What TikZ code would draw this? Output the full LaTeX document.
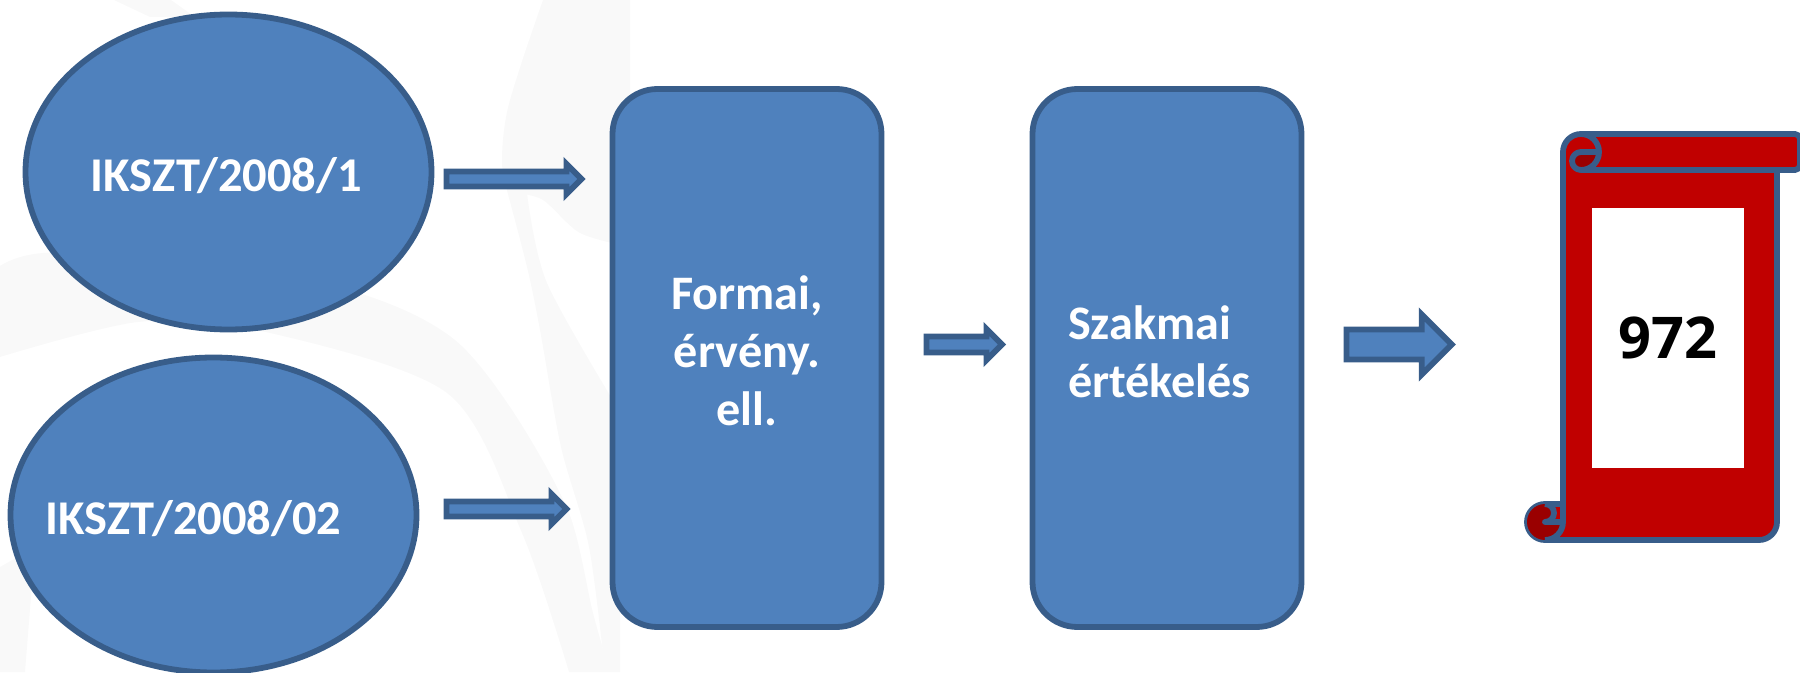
\documentclass[tikz,border=0pt]{standalone}
\usepackage{fontspec}
\setmainfont{Carlito}
\newfontfamily\countfont{Open Sans}
\usetikzlibrary{calc,shapes.geometric}

\definecolor{boxblue}{HTML}{4F81BD}
\definecolor{edgeblue}{HTML}{385D8A}
\definecolor{scrollred}{HTML}{C00000}
\definecolor{curlred}{HTML}{9A0000}
\definecolor{swoosh}{HTML}{F9F9F9}

\newcommand{\padtop}[2]{\raisebox{0pt}[\dimexpr\height+#1\relax]{#2}}
\newcommand{\padbottom}[2]{\raisebox{0pt}[\height][\dimexpr\depth+#1\relax]{#2}}

\tikzstyle{source} = [ellipse, minimum width=4.06cm, minimum height=3.15cm, inner sep=0pt, outer sep=0pt, draw=edgeblue, line width=0.058cm, fill=boxblue, text=white, font=\fontsize{13.8}{16.5}\bfseries]
\tikzstyle{stage} = [rectangle, rounded corners=0.45cm, minimum width=2.69cm, minimum height=5.38cm, inner sep=0pt, outer sep=0pt, draw=edgeblue, line width=0.058cm, fill=boxblue, text=white, font=\fontsize{13.7}{16.5}\bfseries]
\tikzstyle{result} = [rectangle, minimum width=1.52cm, minimum height=2.6cm, inner sep=0pt, fill=white, text=black, font=\countfont\fontsize{16.4}{20}\bfseries]
\tikzstyle{scrollline} = [draw=edgeblue, line width=0.058cm, line join=round]
\tikzset{arrow/.style 2 args={draw=edgeblue, fill=boxblue, line width=0.058cm, miter limit=4, to path={let \p1=(\tikztostart), \p2=(\tikztotarget) in (\x1,\y1+#1) -- (\x2-#2,\y1+#1) -- (\x2-#2,\y1+#2) -- (\x2,\y1) -- (\x2-#2,\y1-#2) -- (\x2-#2,\y1-#1) -- (\x1,\y1-#1) -- cycle}}}

\begin{document}
\begin{tikzpicture}[node distance=4.2cm]
\useasboundingbox (0,0) rectangle (18,6.72);

% faint background
\fill [swoosh] plot [smooth] coordinates {(0,4.06) (0.43,4.19) (2,4.2) (3.71,3.75) (4.55,3.32) (5.14,2.59) (5.69,1.59) (5.93,0.59) (6.10,0)} -- plot [smooth] coordinates {(5.69,0) (5.22,1.39) (4.47,2.79) (2.57,3.42) (1.38,3.50) (0,3.15)} -- cycle;
\fill [swoosh] plot [smooth] coordinates {(5.43,6.72) (5.07,5.6) (5.05,4.89) (5.43,4.72) (5.8,4.39) (6.3,4.25)} -- (6.3,6.72) -- cycle;
\fill [swoosh] plot [smooth] coordinates {(5.05,4.89) (5.27,4.05) (5.40,3.42) (5.61,2.25) (5.89,1.25) (6.05,0)} -- (6.2,0) -- (6.2,3) -- plot [smooth] coordinates {(6.2,2.6) (5.47,3.89) (5.27,4.79)} -- cycle;
\fill [swoosh] (1.14,6.72) -- (1.71,6.72) -- (1.95,6.55) -- (1.5,6.55) -- cycle;
\fill [swoosh] (0,1.05) -- (0.35,1.25) -- (0.25,0) -- (0,0) -- cycle;

\node (formai) [stage] at (7.47,3.14) {\padbottom{0.05cm}{\begin{tabular}{@{}c@{}}Formai,\\érvény.\\ell.\end{tabular}}};
\node (szakmai) [stage, right of=formai, align=left, text width=1.98cm] {\padbottom{0.03cm}{\begin{tabular}{@{}l@{}}Szakmai\\értékelés\end{tabular}}};
\node (ikszta) [source, left of=formai, xshift=-0.985cm, yshift=1.86cm] {\padtop{0.07cm}{\makebox[0pt]{IKSZT/2008/1\hspace{0.045cm}}}};
\node (ikszb) [source, below of=ikszta, xshift=-0.15cm, yshift=0.77cm] {\padtop{0.07cm}{\makebox[0pt]{IKSZT/2008/02\hspace{0.40cm}}}};

% scroll
\draw [scrollline, fill=scrollred] (15.63,1.68) -- (15.63,5.20) arc (180:90:0.18) -- (17.95,5.38) arc (90:0:0.05) -- (18,5.07) arc (0:-90:0.05) -- (17.77,5.02) -- (17.77,1.50) arc (0:-90:0.18) -- (15.45,1.32) arc (-90:-270:0.18) -- cycle;
\fill [curlred] (15.81,5.20) -- (15.99,5.20) arc (0:-90:0.18) arc (-90:-270:0.09) -- cycle;
\draw [scrollline] (17.77,5.02) -- (15.81,5.02) arc (-90:90:0.18);
\draw [scrollline] (15.99,5.20) -- (15.81,5.20) arc (90:270:0.09);
\fill [curlred] (15.45,1.68) arc (90:270:0.18) arc (-90:0:0.18) -- (15.45,1.50) arc (-90:90:0.09) -- cycle;
\draw [scrollline] (15.63,1.68) -- (15.63,1.50) arc (0:-90:0.18);
\draw [scrollline] (15.45,1.68) arc (90:-90:0.09) -- (15.63,1.50);
\node (count) [result, right of=szakmai, xshift=0.81cm, yshift=0.2cm] {972};

\draw [arrow={0.075cm}{0.15cm}] ([xshift=0.15cm,yshift=-0.07cm]ikszta.east) to ([xshift=-0.31cm]formai.west);
\draw [arrow={0.075cm}{0.15cm}] ([xshift=0.30cm,yshift=0.06cm]ikszb.east) to ([xshift=-0.46cm]formai.west);
\draw [arrow={0.08cm}{0.155cm}] ([xshift=0.45cm,yshift=0.135cm]formai.east) to ([xshift=-0.305cm]szakmai.west);
\draw [arrow={0.15cm}{0.30cm}] ([xshift=0.45cm,yshift=0.135cm]szakmai.east) to ([xshift=-1.395cm]count.west);
\end{tikzpicture}
\end{document}
